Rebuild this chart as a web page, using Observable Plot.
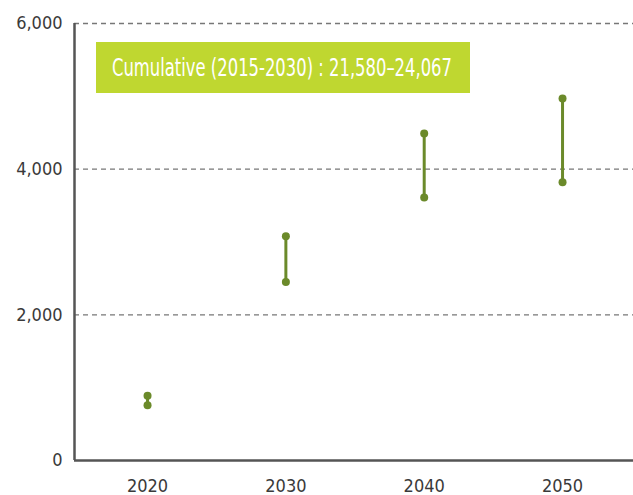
<!DOCTYPE html>
<html><head><meta charset="utf-8">
<script src="https://cdn.jsdelivr.net/npm/d3@7"></script>
<script src="https://cdn.jsdelivr.net/npm/@observablehq/plot@0.6"></script>
<style>
body{margin:0;background:#fff;}
#wrap{position:relative;width:633px;height:495px;font-family:"DejaVu Sans Condensed","Roboto",sans-serif;}
#note{position:absolute;left:96px;top:42px;width:374px;height:51px;background:#bfd730;overflow:hidden;}
#note span{position:absolute;left:16px;top:0;line-height:51px;color:#fff;font-size:25px;white-space:nowrap;transform-origin:0 50%;font-family:"DejaVu Sans Condensed",sans-serif;}
</style></head><body>
<div id="wrap"><div id="note"><span id="notetxt">Cumulative (2015-2030) : 21,580–24,067</span></div></div>
<script>
const years = [2020, 2030, 2040, 2050];
const low = [760, 2450, 3610, 3820];
const high = [890, 3080, 4490, 4970];
const yTicks = [0, 2000, 4000, 6000];
const grid = [2000, 4000, 6000];

const data = years.map((y, i) => ({year: y, low: low[i], high: high[i]}));
const pts = data.flatMap(d => [{year: d.year, v: d.low}, {year: d.year, v: d.high}]);
const green = "#6b8a2a";

const chart = Plot.plot({
  width: 633, height: 495,
  marginLeft: 74, marginRight: 0, marginTop: 23, marginBottom: 35,
  style: {fontFamily: "'DejaVu Sans Condensed',sans-serif", fontSize: "18px", color: "#3a3a3a", overflow: "visible"},
  x: {domain: [2014.72, 2055.13], ticks: years, tickFormat: "d", tickSize: 0, tickPadding: 19, label: null},
  y: {domain: [0, 6000], ticks: yTicks, tickFormat: d => d3.format(",")(d), tickSize: 0, tickPadding: 12, label: null},
  marks: [
    Plot.ruleY(grid, {stroke: "#777", strokeWidth: 1.3, strokeDasharray: "5,4"}),
    Plot.ruleX(data, {x: "year", y1: "low", y2: "high", stroke: green, strokeWidth: 3}),
    Plot.dot(pts, {x: "year", y: "v", r: 4, fill: green, stroke: "none"}),
    Plot.ruleY([0], {stroke: "#555", strokeWidth: 2.5}),
    Plot.ruleX([2014.72], {stroke: "#555", strokeWidth: 2.5})
  ]
});
document.getElementById("wrap").prepend(chart);
const t = document.getElementById("notetxt");
const w = t.getBoundingClientRect().width;
t.style.transform = `scaleX(${340 / w})`;
</script>
</body></html>
